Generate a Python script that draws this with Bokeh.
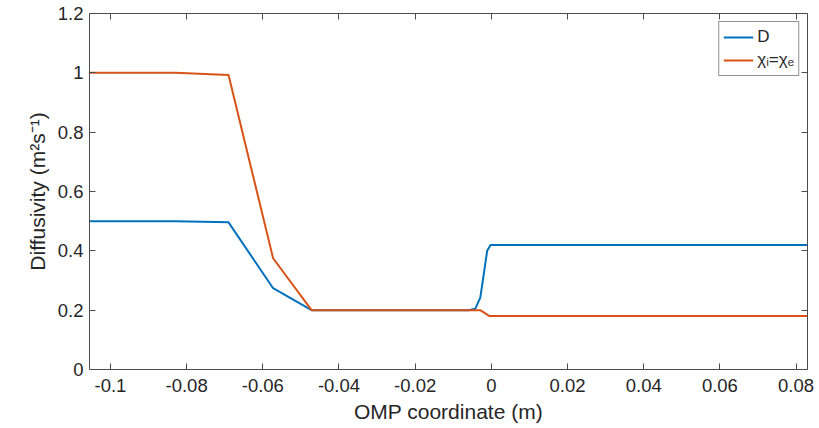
from bokeh.plotting import figure
from bokeh.models import Range1d, FixedTicker, LinearAxis, Legend, LegendItem
from bokeh.embed import file_html
from bokeh.resources import INLINE

# Data
x_D = [-0.1055, -0.083, -0.069, -0.0573, -0.0472, -0.0060, -0.0042, -0.0029, -0.0011, -0.0002, 0.083]
y_D = [0.5, 0.5, 0.496, 0.274, 0.2, 0.2, 0.205, 0.242, 0.40, 0.42, 0.42]

x_chi = [-0.1055, -0.083, -0.069, -0.0573, -0.0472, -0.0029, -0.0005, 0.083]
y_chi = [1.0, 1.0, 0.993, 0.375, 0.2, 0.2, 0.18, 0.18]

x_ticks = [-0.1, -0.08, -0.06, -0.04, -0.02, 0.0, 0.02, 0.04, 0.06, 0.08]
x_tick_labels = ["-0.1", "-0.08", "-0.06", "-0.04", "-0.02", "0", "0.02", "0.04", "0.06", "0.08"]
y_ticks = [0.0, 0.2, 0.4, 0.6, 0.8, 1.0, 1.2]
y_tick_labels = ["0", "0.2", "0.4", "0.6", "0.8", "1", "1.2"]

FONT = "Liberation Sans"
TXT = "#262626"
AX = "#4d4d4d"
BLUE = "#0072BD"
ORANGE = "#D95319"

p = figure(frame_width=718, frame_height=356,
           x_range=Range1d(-0.1055, 0.083), y_range=Range1d(0, 1.2),
           output_backend="svg", toolbar_location=None,
           min_border_left=89, min_border_right=11, min_border_top=13, min_border_bottom=57)
p.background_fill_color = "white"
p.border_fill_color = "white"
p.outline_line_color = None
p.xgrid.visible = False
p.ygrid.visible = False

r1 = p.line(x_D, y_D, line_color=BLUE, line_width=2)
r2 = p.line(x_chi, y_chi, line_color=ORANGE, line_width=2)

def style(ax, ticks, labels, show_labels=True):
    ax.ticker = FixedTicker(ticks=ticks)
    ax.major_tick_in = 6
    ax.major_tick_out = 0
    ax.minor_tick_in = 0
    ax.minor_tick_out = 0
    ax.axis_line_color = AX
    ax.major_tick_line_color = AX
    ax.major_label_text_font = FONT
    ax.major_label_text_font_size = "18.5px"
    ax.major_label_text_color = TXT
    ax.axis_label_text_font = FONT
    ax.axis_label_text_font_size = "21px"
    ax.axis_label_text_font_style = "normal"
    ax.axis_label_text_color = TXT
    if show_labels:
        ax.major_label_overrides = {t: l for t, l in zip(ticks, labels)}
    else:
        ax.major_label_overrides = {t: "" for t in ticks}
        ax.major_label_standoff = 0

xa = p.xaxis[0]
style(xa, x_ticks, x_tick_labels)
xa.axis_label = "OMP coordinate (m)"
xa.major_label_standoff = 9
xa.axis_label_standoff = 5

ya = p.yaxis[0]
style(ya, y_ticks, y_tick_labels)
ya.axis_label = "Diffusivity (m²s⁻¹)"
ya.major_label_standoff = 6
ya.axis_label_standoff = 6

top = LinearAxis()
style(top, x_ticks, x_tick_labels, show_labels=False)
p.add_layout(top, "above")
right = LinearAxis()
style(right, y_ticks, y_tick_labels, show_labels=False)
p.add_layout(right, "right")

legend = Legend(items=[LegendItem(label="D", renderers=[r1]),
                       LegendItem(label="χᵢ=χₑ", renderers=[r2])],
                location="top_right")
legend.margin = 8
legend.padding = 4
legend.spacing = 1
legend.glyph_width = 30
legend.glyph_height = 22
legend.label_height = 22
legend.label_standoff = 4
legend.label_text_font = FONT
legend.label_text_font_size = "17px"
legend.label_text_color = TXT
legend.border_line_color = TXT
legend.border_line_width = 1
legend.background_fill_alpha = 1.0
p.add_layout(legend, "center")

open("out.html", "w").write(file_html(p, INLINE))
